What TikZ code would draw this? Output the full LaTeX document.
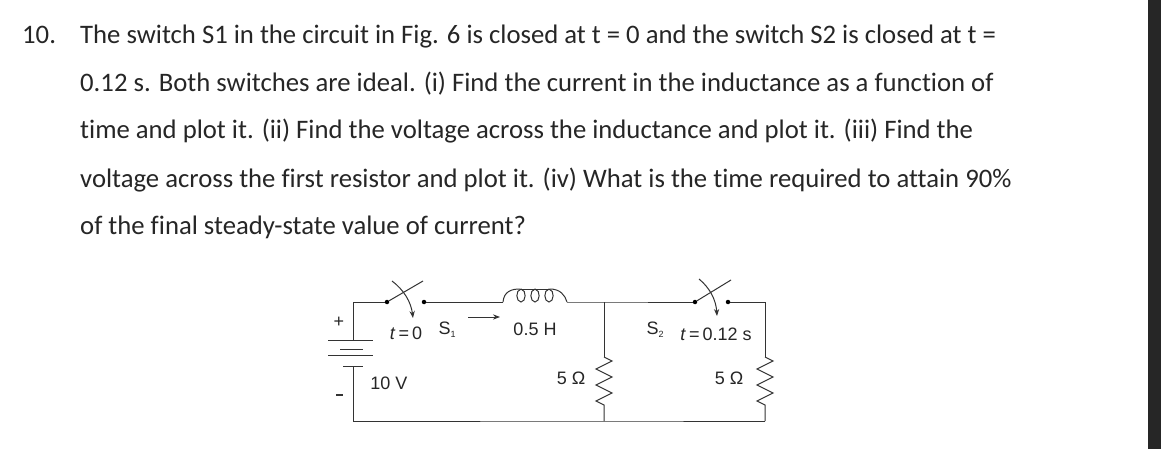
\documentclass[tikz,border=0pt]{standalone}
\usepackage{fontspec}
\setmainfont{Carlito}[Ligatures=CommonOff]
\newfontfamily\cfont{Liberation Sans}
\usetikzlibrary{arrows.meta}
\begin{document}
\begin{tikzpicture}[x=1pt,y=-1pt,
  txt/.style={anchor=base west,inner sep=0pt,font=\fontsize{26.7}{30}\selectfont,text=black!85},
  lab/.style={inner sep=0pt,font=\cfont\fontsize{18}{20}\selectfont,text=black!85},
  wire/.style={draw=black!80,line width=1pt},
  dot/.style={circle,fill=black,inner sep=0pt,minimum size=4.5pt}]
\useasboundingbox (0,0) rectangle (1161,449);
\fill[white] (0,0) rectangle (1161,449);
\fill[black!70!gray] (1148,0) rectangle (1161,449);
\node[txt] (n) at (22,44) {10.};
\node[txt] (l1) at (80,44) {The switch S1 in the circuit in Fig. 6 is closed at t = 0 and the switch S2 is closed at t =};
\node[txt] (l2) at (80,92) {0.12 s. Both switches are ideal. (i) Find the current in the inductance as a function of};
\node[txt] (l3) at (80,139) {time and plot it. (ii) Find the voltage across the inductance and plot it. (iii) Find the};
\node[txt] (l4) at (80,187) {voltage across the first resistor and plot it. (iv) What is the time required to attain 90\%};
\node[txt] (l5) at (80,234) {of the final steady-state value of current?};
% coordinates
\coordinate (bt) at (353,302);
\coordinate (bb) at (353,421);
\node[dot] (s1a) at (387,302) {};
\node[dot] (s1b) at (424,302) {};
\coordinate (la) at (503,302);
\coordinate (lb) at (567,302);
\coordinate (mt) at (604,302);
\coordinate (mb) at (604,421);
\node[dot] (s2a) at (695,302) {};
\node[dot] (s2b) at (728,302) {};
\coordinate (rt) at (765,302);
\coordinate (rb) at (765,421);
% wires
\draw[wire] (353,340) -- (bt) -- (s1a);
\draw[wire] (s1b) -- (la);
\draw[wire] (la) .. controls (504,291) and (512,289) .. (520,289);
\foreach \x in {521,535,549}{
  \draw[wire] (\x,289) .. controls (\x-6,290) and (\x-5,302) .. (\x,302) .. controls (\x+5,302) and (\x+6,290) .. (\x,289);
}
\draw[wire] (520,289) -- (550,289);
\draw[wire] (550,289) .. controls (560,289) and (565,295) .. (lb);
\draw[wire] (lb) -- (mt) -- (s2a);
\draw[wire] (s2b) -- (rt) -- (765,357);
\draw[wire] (mt) -- (604,357);
\draw[wire] (604,357) -- (612,361) -- (596,369) -- (612,377) -- (596,385) -- (612,393) -- (596,401) -- (604,405) -- (mb);
\draw[wire] (765,357) -- (773,361) -- (757,369) -- (773,377) -- (757,385) -- (773,393) -- (757,401) -- (765,405) -- (rb);
\draw[wire] (353,367) -- (bb) -- (mb) -- (rb);
% battery
\draw[wire] (328,340) -- (373,340);
\draw[wire] (340,349) -- (363,349);
\draw[wire] (328,355) -- (373,355);
\draw[wire] (343,366) -- (363,366);
% switches
\draw[wire] (s1a) -- (423,281);
\draw[wire,-{Stealth[length=7pt]}] (392,281) .. controls (404,290) and (411,302) .. (413,318);
\draw[wire] (s2a) -- (731,280);
\draw[wire,-{Stealth[length=7pt]}] (699,279) .. controls (710,288) and (716,300) .. (717,316);
% current arrow
\coordinate (ca) at (468,317);
\coordinate (cb) at (500,317);
\draw[wire,-{Stealth[length=7pt]}] (ca) -- (cb);
% labels
\node[lab] (plus) at (339,322) {+};
\draw[wire,line width=1.5pt] (336,395) coordinate (m1) -- (343,395) coordinate (m2);
\node[lab] (t0) at (406,333) {\textit{t}\,=\,0};
\node[lab] (S1) at (447,330) {S\raisebox{-3pt}{\fontsize{9}{9}\selectfont 1}};
\node[lab] (L) at (535,329) {0.5 H};
\node[lab] (V) at (389,383) {10 V};
\node[lab] (R1) at (571,378) {5 Ω};
\node[lab] (S2) at (655,330) {S\raisebox{-3pt}{\fontsize{9}{9}\selectfont 2}};
\node[lab] (t12) at (716,334) {\textit{t}\,=\,0.12 s};
\node[lab] (R2) at (729,378) {5 Ω};
\end{tikzpicture}
\end{document}
